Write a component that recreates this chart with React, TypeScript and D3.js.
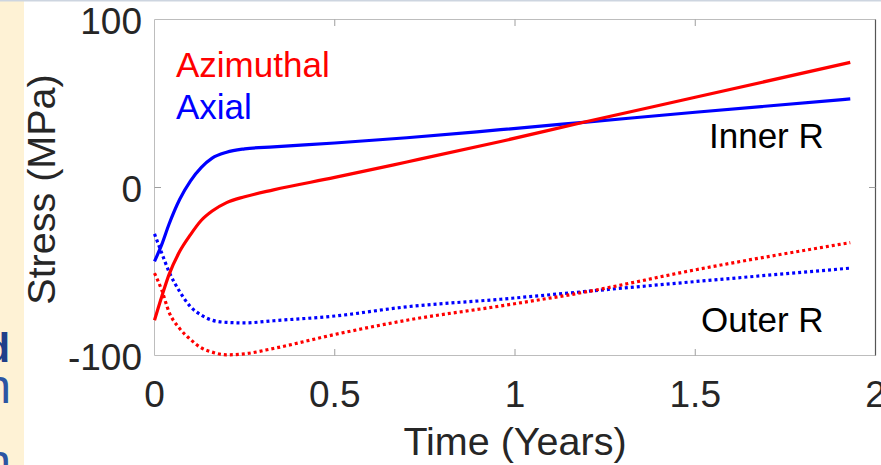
import React from 'react';
import * as d3 from 'd3';

// time axis samples (years)
const time = [0, 0.02, 0.04, 0.07, 0.1, 0.13, 0.16, 0.2, 0.25, 0.33, 0.5, 0.7, 0.96, 1.19, 1.5, 1.93];

// stress values (MPa)
const axialInner = [-44, -34, -22, -7, 4, 12, 17.5, 21, 23, 24.2, 26.5, 29.6, 34.4, 38.8, 44.8, 52.7];
const azimuthalInner = [-79, -65, -52, -38, -28, -19.5, -14, -9, -5.5, -1.4, 6, 15.2, 27.4, 38.8, 53.7, 74.5];
const axialOuter = [-27.6, -39, -50, -62, -71, -76, -79, -80.3, -80.6, -79.3, -76.5, -71, -66.5, -62, -56, -48];
const azimuthalOuter = [-51, -61, -74, -84, -90.5, -95.5, -98, -99.6, -99, -95.8, -87.5, -79, -70.5, -62.4, -49, -32.8];

const xTicks = [0, 0.5, 1, 1.5, 2];
const xTickLabels = ['0', '0.5', '1', '1.5', '2'];
const yTicks = [-100, 0, 100];
const yTickLabels = ['-100', '0', '100'];

const FONT = '"Liberation Sans", Arial, sans-serif';

export default function App() {
  const width = 881;
  const height = 465;
  const plot = { left: 154.5, right: 875.5, top: 19.5, bottom: 355.5 };

  const x = d3.scaleLinear().domain([0, 2]).range([plot.left, plot.right]);
  const y = d3.scaleLinear().domain([-100, 100]).range([plot.bottom, plot.top]);

  const line = d3.line<[number, number]>()
    .x(d => x(d[0]))
    .y(d => y(d[1]))
    .curve(d3.curveMonotoneX);

  const series = [
    { values: axialOuter, color: '#0000ff', dotted: true },
    { values: azimuthalOuter, color: '#ff0000', dotted: true },
    { values: axialInner, color: '#0000ff', dotted: false },
    { values: azimuthalInner, color: '#ff0000', dotted: false },
  ];

  const tickLen = 6.5;

  return (
    <svg
      width={width}
      height={height}
      style={{ position: 'absolute', left: 0, top: 0, display: 'block', background: '#fff' }}
    >
      {/* slide fragments around the figure */}
      <rect x={0} y={0} width={24} height={height} fill="#fef2d5" />
      <rect x={0} y={0} width={width} height={1.5} fill="#cdd5e0" />
      <text x={10} y={362} textAnchor="end" fontFamily={FONT} fontWeight="bold" fontSize={41} fill="#1f3f8a">d</text>
      <text x={11} y={403} textAnchor="end" fontFamily={FONT} fontSize={48} fill="#2b55a3">n</text>
      <text x={11} y={478} textAnchor="end" fontFamily={FONT} fontSize={48} fill="#2b55a3">n</text>

      {/* axes box */}
      <line x1={plot.left} x2={plot.right} y1={plot.top} y2={plot.top} stroke="#bdbdbd" strokeWidth={1} />
      <line x1={plot.left} x2={plot.right} y1={plot.bottom} y2={plot.bottom} stroke="#bdbdbd" strokeWidth={1} />
      <line x1={plot.left} x2={plot.left} y1={plot.top} y2={plot.bottom} stroke="#bdbdbd" strokeWidth={1} />
      <line x1={plot.right} x2={plot.right} y1={plot.top} y2={plot.bottom} stroke="#555" strokeWidth={1.2} />

      {/* inward ticks */}
      {xTicks.slice(1, -1).map(t => (
        <g key={'xt' + t}>
          <line x1={x(t)} x2={x(t)} y1={plot.bottom} y2={plot.bottom - tickLen} stroke="#9e9e9e" />
          <line x1={x(t)} x2={x(t)} y1={plot.top} y2={plot.top + tickLen} stroke="#9e9e9e" />
        </g>
      ))}
      <line x1={plot.left} x2={plot.left + tickLen} y1={y(0)} y2={y(0)} stroke="#9e9e9e" />
      <line x1={plot.right} x2={plot.right - tickLen} y1={y(0)} y2={y(0)} stroke="#9e9e9e" />

      {/* curves */}
      {series.map((s, i) => (
        <path
          key={i}
          d={line(time.map((t, j) => [t, s.values[j]] as [number, number])) || ''}
          fill="none"
          stroke={s.color}
          strokeWidth={3.2}
          strokeDasharray={s.dotted ? '3 3' : undefined}
          strokeLinejoin="round"
        />
      ))}

      {/* tick labels */}
      {xTicks.map((t, i) => (
        <text key={'xl' + t} x={x(t)} y={plot.bottom + 51.5} textAnchor="middle"
          fontFamily={FONT} fontSize={37} fill="#262626">{xTickLabels[i]}</text>
      ))}
      {yTicks.map((t, i) => (
        <text key={'yl' + t} x={142} y={y(t) + 14} textAnchor="end"
          fontFamily={FONT} fontSize={37} fill="#262626">{yTickLabels[i]}</text>
      ))}

      {/* axis titles */}
      <text x={(plot.left + plot.right) / 2} y={455} textAnchor="middle"
        fontFamily={FONT} fontSize={39.5} fill="#262626">Time (Years)</text>
      <text transform={`translate(55,${(plot.top + plot.bottom) / 2 + 2}) rotate(-90)`} textAnchor="middle"
        fontFamily={FONT} fontSize={39.5} fill="#262626">Stress (MPa)</text>

      {/* annotations */}
      <text x={176} y={77} fontFamily={FONT} fontSize={35} fill="#ff0000">Azimuthal</text>
      <text x={176} y={119} fontFamily={FONT} fontSize={35} fill="#0000ff">Axial</text>
      <text x={709} y={148} fontFamily={FONT} fontSize={35} fill="#000">Inner R</text>
      <text x={701} y={332} fontFamily={FONT} fontSize={35} fill="#000">Outer R</text>
    </svg>
  );
}
